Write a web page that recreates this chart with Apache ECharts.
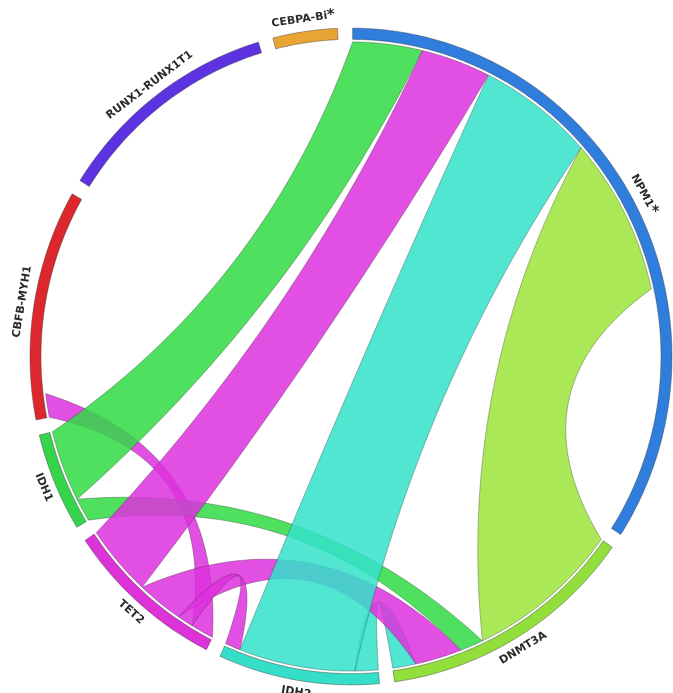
<!DOCTYPE html>
<html><head><meta charset="utf-8">
<script src="https://cdn.jsdelivr.net/npm/echarts@6.0.0/dist/echarts.min.js"></script>
<style>html,body{margin:0;padding:0;background:#fff}#c{width:673px;height:693px}</style>
</head><body><div id="c"></div>
<script>
// ---- data ----
const nodeNames  = ['NPM1','DNMT3A','IDH2','TET2','IDH1','CBFB-MYH1','RUNX1-RUNX1T1','CEBPA-Bi'];
const nodeLabels = ['NPM1{s|*}','DNMT3A','IDH2','TET2','IDH1','CBFB-MYH1','RUNX1-RUNX1T1','CEBPA-Bi{s|*}'];
const nodeValues = [42, 16, 10, 10, 6, 14, 14, 4];
const nodeColors = ['#2f7ddc','#92de3a','#34dec8','#dc32d7','#34d44b','#dc282d','#5c32e1','#e8a534'];
const linkColors = ['#2f7ddc','#9be43a','#33e2ca','#dd30de','#30db44','#dc282d','#5c32e1','#e8a534'];

const linkSource = ['IDH1','TET2','IDH2','DNMT3A','IDH1','TET2','IDH2','TET2','TET2'];
const linkTarget = ['NPM1','NPM1','NPM1','NPM1','DNMT3A','DNMT3A','DNMT3A','IDH2','CBFB-MYH1'];
const linkValues = [4.5, 4.5, 7.5, 10, 1.5, 3, 1.5, 1, 1.5];
// partners along each node, clockwise
const partnerOrder = [
  ['IDH1','TET2','IDH2','DNMT3A'],
  ['NPM1','IDH1','TET2','IDH2'],
  ['DNMT3A','NPM1','TET2'],
  ['CBFB-MYH1','IDH2','DNMT3A','NPM1'],
  ['DNMT3A','NPM1'],
  ['TET2'], [], []
];
const linkDrawOrder = [6, 8, 4, 5, 7, 0, 1, 2, 3];

// ---- layout from data ----
const GAP = 2.7, START = 0.3;
const R_OUT = 321, R_IN = 310, R_LINK = 307.5, R_LABEL = 333, K = 0.21, SY = 1.023;
const total = nodeValues.reduce((a, b) => a + b, 0);
const UNIT = (360 - GAP * nodeNames.length) / total;
const nodeStart = [], nodeEnd = [];
let acc = START;
nodeValues.forEach((v, i) => { nodeStart[i] = acc; nodeEnd[i] = acc + v * UNIT; acc = nodeEnd[i] + GAP; });
const spanS = [], spanT = [];
nodeNames.forEach((name, i) => {
  let a = nodeStart[i];
  partnerOrder[i].forEach(p => {
    for (let k = 0; k < linkValues.length; k++) {
      const w = linkValues[k] * UNIT;
      if (linkSource[k] === name && linkTarget[k] === p) { spanS[k] = [a, a + w]; a += w; }
      else if (linkTarget[k] === name && linkSource[k] === p) { spanT[k] = [a, a + w]; a += w; }
    }
  });
});

function pt(api, r, a) {
  const c = api.coord([0, 0]);
  const p = api.coord([r, a]);
  return [p[0], c[1] + (p[1] - c[1]) * SY];
}
function arcPts(api, r, a0, a1, out) {
  const n = Math.max(2, Math.ceil(Math.abs(a1 - a0) / 0.5));
  for (let s = 0; s <= n; s++) out.push(pt(api, r, a0 + (a1 - a0) * s / n));
}
function curvePts(api, aA, aB, out) {
  const P0 = pt(api, R_LINK, aA), P2 = pt(api, R_LINK, aB);
  const d = (((aB - aA) % 360) + 540) % 360 - 180;
  const am = aA + d / 2;
  const rm = R_LINK * Math.cos(Math.abs(d) / 2 * Math.PI / 180);
  const mm = pt(api, rm, am);
  const ap = pt(api, rm * (1 - K), am);
  const C = [2 * ap[0] - mm[0], 2 * ap[1] - mm[1]];
  const n = 48;
  for (let s = 1; s <= n; s++) {
    const t = s / n, u = 1 - t;
    out.push([u * u * P0[0] + 2 * u * t * C[0] + t * t * P2[0],
              u * u * P0[1] + 2 * u * t * C[1] + t * t * P2[1]]);
  }
}

function renderNode(params, api) {
  const i = params.dataIndex;
  const a0 = nodeStart[i], a1 = nodeEnd[i];
  const pts = [];
  arcPts(api, R_OUT, a0, a1, pts);
  const inner = [];
  arcPts(api, R_IN, a1, a0, inner);
  const mid = (a0 + a1) / 2;
  const lp = pt(api, R_LABEL, mid);
  const rot = (mid > 90 && mid < 270) ? (180 - mid) : -mid;
  return {
    type: 'group',
    children: [
      { type: 'polygon', shape: { points: pts.concat(inner) },
        style: { fill: nodeColors[i], stroke: 'rgba(60,60,60,0.55)', lineWidth: 0.8 } },
      { type: 'text', x: lp[0], y: lp[1], rotation: rot * Math.PI / 180,
        style: { text: nodeLabels[i], fill: '#2b2b2b', fontSize: 11, fontWeight: 'bold',
                 fontFamily: 'DejaVu Sans', align: 'center', verticalAlign: 'middle',
                 rich: { s: { fontSize: 15, fontWeight: 'bold', fontFamily: 'DejaVu Sans', fill: '#2b2b2b' } } } }
    ]
  };
}

function renderLink(params, api) {
  const k = linkDrawOrder[params.dataIndex];
  const [s0, s1] = spanS[k], [t0, t1] = spanT[k];
  const pts = [];
  arcPts(api, R_LINK, s0, s1, pts);
  curvePts(api, s1, t0, pts);
  arcPts(api, R_LINK, t0, t1, pts);
  curvePts(api, t1, s0, pts);
  const col = linkColors[nodeNames.indexOf(linkSource[k])];
  return { type: 'polygon', shape: { points: pts },
           style: { fill: col, opacity: 0.85, stroke: 'rgba(40,40,40,0.55)', lineWidth: 0.7 } };
}

const chart = echarts.init(document.getElementById('c'));
chart.setOption({
  backgroundColor: '#ffffff',
  animation: false,
  polar: { center: [351, 356.5], radius: R_OUT },
  angleAxis: { type: 'value', min: 0, max: 360, startAngle: 90, clockwise: true, show: false },
  radiusAxis: { type: 'value', min: 0, max: R_OUT, show: false },
  series: [
    { type: 'custom', coordinateSystem: 'polar', renderItem: renderLink,
      data: linkDrawOrder.map((k) => [R_LINK, 0]), silent: true },
    { type: 'custom', coordinateSystem: 'polar', renderItem: renderNode,
      data: nodeNames.map((n) => [R_OUT, 0]), silent: true }
  ]
});
</script></body></html>
